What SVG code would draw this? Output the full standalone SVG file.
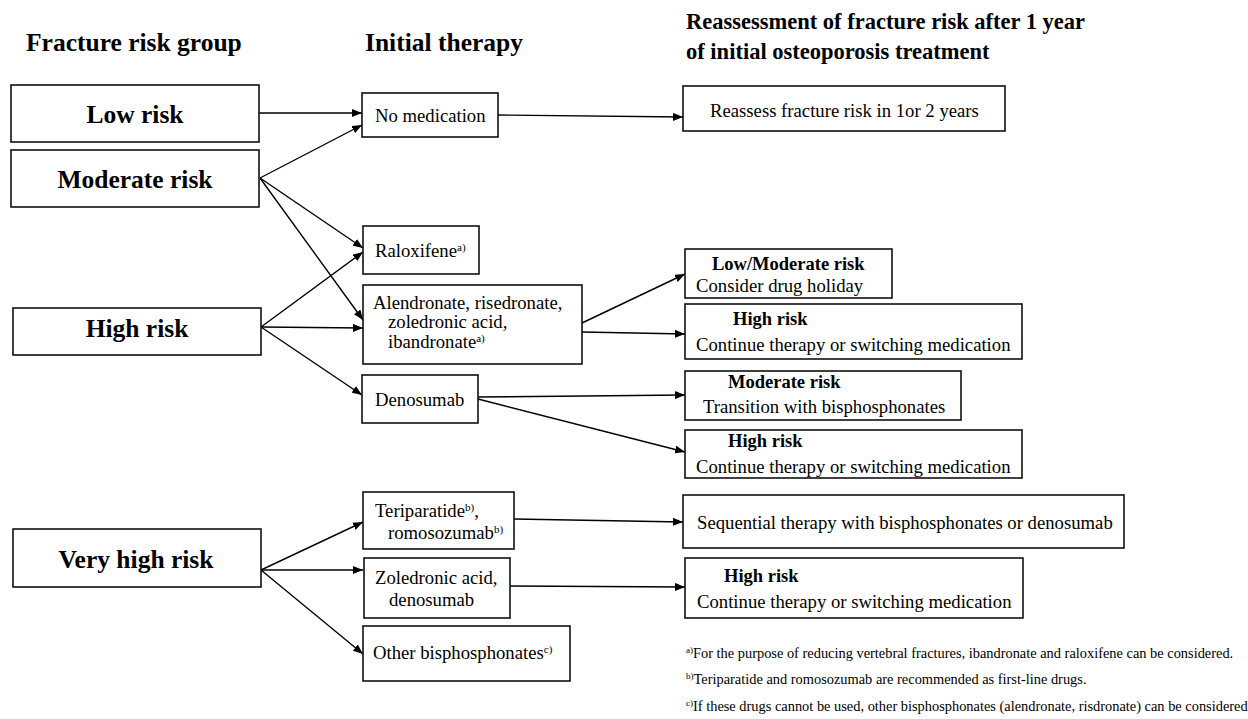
<svg xmlns="http://www.w3.org/2000/svg" width="1248" height="719" viewBox="0 0 1248 719">
<defs>
<marker id="ah" markerUnits="userSpaceOnUse" markerWidth="10" markerHeight="8" refX="10" refY="4" orient="auto">
<path d="M0,0 L10,4 L0,8 z" fill="#000"/>
</marker>
<style>
text{font-family:"Liberation Serif","Times New Roman",serif;fill:#000}
.title{font-weight:bold;font-size:25.5px}
.title2{font-weight:bold;font-size:22.5px}
.big{font-weight:bold;font-size:25.5px;text-anchor:middle}
.t{font-size:18.7px}
.b{font-size:18.5px;font-weight:bold}
.fn{font-size:14.4px}
.sup{font-size:11px}
.fsup{font-size:9px}
rect{fill:#fff;stroke:#111;stroke-width:1.6}
#connectors line{stroke:#000;stroke-width:1.4;fill:none;marker-end:url(#ah)}
</style>
</defs>
<rect x="0" y="0" width="1248" height="719" style="fill:#fff;stroke:none"/>

<g id="headers">
<text class="title" x="26" y="51">Fracture risk group</text>
<text class="title" x="365" y="51">Initial therapy</text>
<text class="title2" x="686" y="29">Reassessment of fracture risk after 1 year</text>
<text class="title2" x="686" y="59">of initial osteoporosis treatment</text>
</g>

<g id="connectors">
<line x1="259" y1="113" x2="362" y2="113"/>
<line x1="260" y1="178" x2="362" y2="125"/>
<line x1="260" y1="178" x2="363" y2="248"/>
<line x1="260" y1="178" x2="363" y2="320"/>
<line x1="261" y1="327" x2="363" y2="252"/>
<line x1="261" y1="327" x2="363" y2="328"/>
<line x1="261" y1="327" x2="362" y2="395"/>
<line x1="498" y1="115" x2="683" y2="117"/>
<line x1="582" y1="323" x2="685" y2="274"/>
<line x1="582" y1="332" x2="685" y2="334"/>
<line x1="478" y1="397" x2="685" y2="395"/>
<line x1="478" y1="399" x2="685" y2="452"/>
<line x1="261" y1="570" x2="363" y2="522"/>
<line x1="261" y1="570" x2="363" y2="570"/>
<line x1="261" y1="570" x2="363" y2="654"/>
<line x1="514" y1="519" x2="683" y2="522"/>
<line x1="510" y1="586" x2="685" y2="587"/>
</g>

<g id="low-risk">
<rect x="11" y="85" width="248" height="57"/>
<text class="big" x="135" y="123">Low risk</text>
</g>
<g id="moderate-risk">
<rect x="11" y="150" width="248" height="57"/>
<text class="big" x="135" y="188">Moderate risk</text>
</g>
<g id="high-risk">
<rect x="13" y="308" width="248" height="47"/>
<text class="big" x="137" y="337">High risk</text>
</g>
<g id="very-high-risk">
<rect x="13" y="529" width="248" height="58"/>
<text class="big" x="136" y="568">Very high risk</text>
</g>

<g id="no-medication">
<rect x="362" y="93" width="136" height="44"/>
<text class="t" x="375" y="122">No medication</text>
</g>
<g id="raloxifene">
<rect x="363" y="226" width="116" height="48"/>
<text class="t" x="375" y="257">Raloxifene<tspan class="sup" dy="-6">a)</tspan></text>
</g>
<g id="alendronate">
<rect x="363" y="285" width="219" height="79"/>
<text class="t" x="373" y="309">Alendronate, risedronate,</text>
<text class="t" x="388" y="328">zoledronic acid,</text>
<text class="t" x="388" y="348">ibandronate<tspan class="sup" dy="-6">a)</tspan></text>
</g>
<g id="denosumab">
<rect x="362" y="375" width="116" height="48"/>
<text class="t" x="375" y="406">Denosumab</text>
</g>
<g id="teriparatide">
<rect x="363" y="492" width="151" height="57"/>
<text class="t" x="375" y="517">Teriparatide<tspan class="sup" dy="-6">b)</tspan><tspan dy="6">,</tspan></text>
<text class="t" x="388" y="539">romosozumab<tspan class="sup" dy="-6">b)</tspan></text>
</g>
<g id="zoledronic">
<rect x="364" y="558" width="146" height="60"/>
<text class="t" x="375" y="584">Zoledronic acid,</text>
<text class="t" x="389" y="606">denosumab</text>
</g>
<g id="other-bisphosphonates">
<rect x="363" y="626" width="207" height="55"/>
<text class="t" x="373" y="659">Other bisphosphonates<tspan class="sup" dy="-6">c)</tspan></text>
</g>

<g id="reassess">
<rect x="683" y="86" width="322" height="45"/>
<text class="t" x="710" y="117">Reassess fracture risk in 1or 2 years</text>
</g>
<g id="low-moderate-holiday">
<rect x="685" y="249" width="207" height="49"/>
<text class="b" x="712" y="270">Low/Moderate risk</text>
<text class="t" x="696" y="292">Consider drug holiday</text>
</g>
<g id="high-continue-1">
<rect x="685" y="304" width="337" height="55"/>
<text class="b" x="733" y="325">High risk</text>
<text class="t" x="696" y="351">Continue therapy or switching medication</text>
</g>
<g id="moderate-transition">
<rect x="685" y="371" width="276" height="49"/>
<text class="b" x="728" y="388">Moderate risk</text>
<text class="t" x="703" y="413">Transition with bisphosphonates</text>
</g>
<g id="high-continue-2">
<rect x="685" y="430" width="337" height="48"/>
<text class="b" x="728" y="447">High risk</text>
<text class="t" x="696" y="473">Continue therapy or switching medication</text>
</g>
<g id="sequential">
<rect x="683" y="495" width="441" height="53"/>
<text class="t" x="697" y="529">Sequential therapy with bisphosphonates or denosumab</text>
</g>
<g id="high-continue-3">
<rect x="685" y="558" width="338" height="60"/>
<text class="b" x="724" y="582">High risk</text>
<text class="t" x="697" y="608">Continue therapy or switching medication</text>
</g>

<g id="footnotes">
<text class="fn" x="686" y="658"><tspan class="fsup" dy="-5">a)</tspan><tspan dy="5">For the purpose of reducing vertebral fractures, ibandronate and raloxifene can be considered.</tspan></text>
<text class="fn" x="686" y="684"><tspan class="fsup" dy="-5">b)</tspan><tspan dy="5">Teriparatide and romosozumab are recommended as first-line drugs.</tspan></text>
<text class="fn" x="686" y="711"><tspan class="fsup" dy="-5">c)</tspan><tspan dy="5">If these drugs cannot be used, other bisphosphonates (alendronate, risdronate) can be considered</tspan></text>
</g>
</svg>
